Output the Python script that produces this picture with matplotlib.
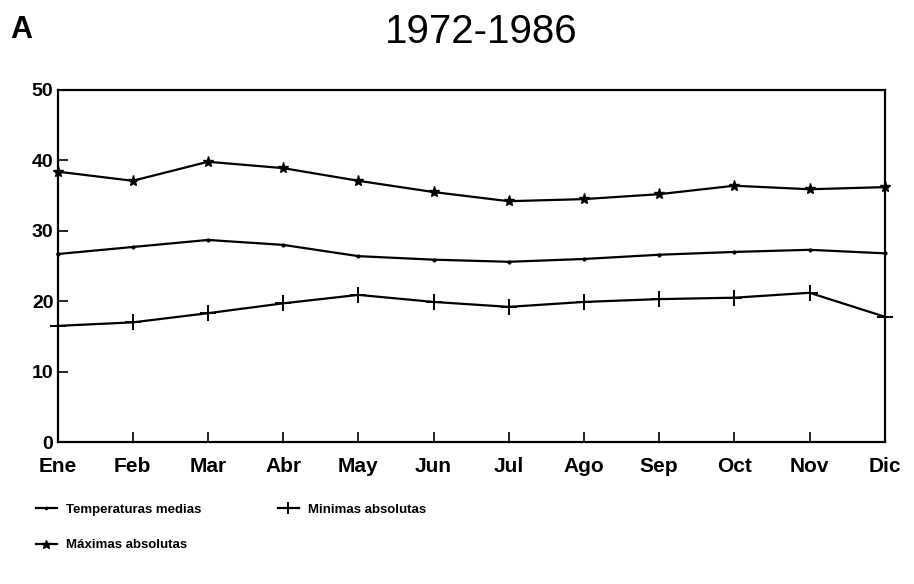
import matplotlib.pyplot as plt

plt.rcParams['font.family'] = ['Liberation Sans', 'DejaVu Sans']

months = ["Ene", "Feb", "Mar", "Abr", "May", "Jun",
          "Jul", "Ago", "Sep", "Oct", "Nov", "Dic"]
medias = [26.7, 27.7, 28.7, 28.0, 26.4, 25.9, 25.6, 26.0, 26.6, 27.0, 27.3, 26.8]
maximas = [38.4, 37.1, 39.8, 38.9, 37.1, 35.5, 34.2, 34.5, 35.2, 36.4, 35.9, 36.2]
minimas = [16.5, 17.0, 18.3, 19.7, 20.9, 19.9, 19.2, 19.9, 20.3, 20.5, 21.2, 17.8]

x = list(range(len(months)))

fig = plt.figure(figsize=(9.14, 5.84), dpi=100)
ax = fig.add_axes([0.063, 0.243, 0.905, 0.603])

l1, = ax.plot(x, medias, color="black", lw=1.6, marker=".", ms=4,
              label="Temperaturas medias", clip_on=False)
l3, = ax.plot(x, minimas, color="black", lw=1.6, marker="+", ms=11, mew=1.4,
              label="Minimas absolutas", clip_on=False)
l2, = ax.plot(x, maximas, color="black", lw=1.6, marker="*", ms=8,
              label="Máximas absolutas", clip_on=False)

ax.set_xlim(0, 11)
ax.set_ylim(0, 50)
ax.set_xticks(x)
ax.set_xticklabels(months, fontsize=15, fontweight="bold")
ax.set_yticks([0, 10, 20, 30, 40, 50])
ax.set_yticklabels(["0", "10", "20", "30", "40", "50"], fontsize=14, fontweight="bold")
ax.tick_params(axis="both", direction="in", length=7, width=1.2)
ax.tick_params(axis="y", pad=3)
ax.tick_params(axis="x", pad=11)
for s in ax.spines.values():
    s.set_linewidth(1.6)

fig.text(0.526, 0.945, "1972-1986", ha="center", va="center", fontsize=29)
fig.text(0.011, 0.948, "A", ha="left", va="center", fontsize=22, fontweight="bold")

fig.legend(handles=[l1, l2, l3], ncol=2, frameon=False,
           loc="upper left", bbox_to_anchor=(0.026, 0.158),
           prop={"size": 9.5, "weight": "bold"}, handlelength=1.6,
           handletextpad=0.7, columnspacing=5.8, labelspacing=1.75,
           markerscale=0.8)

fig.savefig("out.png", dpi=100)
